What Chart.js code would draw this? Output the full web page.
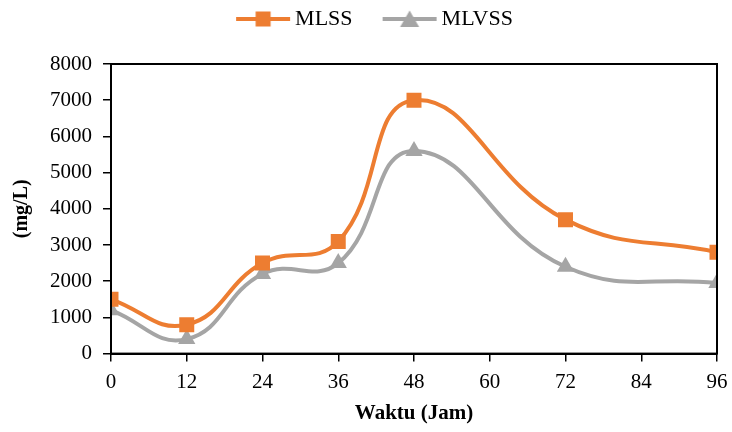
<!DOCTYPE html>
<html>
<head>
<meta charset="utf-8">
<script src="https://cdn.jsdelivr.net/npm/chart.js@4"></script>
<style>
  html, body { margin: 0; padding: 0; background: #fff; }
  #wrap { width: 732px; height: 432px; }
</style>
</head>
<body>
<div id="wrap"><canvas id="chart" width="732" height="432"></canvas></div>
<script>
// Sampling time (hours) and concentrations (mg/L)
const hours = [0, 12, 24, 36, 48, 72, 96];
const mlss  = [1500, 800, 2500, 3100, 7000, 3700, 2800];
const mlvss = [1200, 400, 2200, 2500, 5600, 2400, 1950];
const xTicks = [0, 12, 24, 36, 48, 60, 72, 84, 96];
const yTicks = [0, 1000, 2000, 3000, 4000, 5000, 6000, 7000, 8000];

const ORANGE = '#ED7D31';
const GREY = '#A5A5A5';
const FONT = "'Liberation Serif', 'Times New Roman', serif";

// Legend swatch: a line with the series marker in the middle,
// right-aligned in a wider transparent canvas so the items sit apart
function swatch(color, shape) {
  const c = document.createElement('canvas');
  c.width = 84; c.height = 18;
  const g = c.getContext('2d');
  const x0 = 84 - 56;
  g.strokeStyle = color;
  g.lineWidth = 4;
  g.beginPath(); g.moveTo(x0 + 1, 9); g.lineTo(83, 9); g.stroke();
  g.fillStyle = color;
  const cx = x0 + 28;
  if (shape === 'rect') {
    g.fillRect(cx - 7.5, 9 - 7.5, 15, 15);
  } else {
    g.beginPath();
    g.moveTo(cx, 0.5); g.lineTo(cx + 9.5, 17); g.lineTo(cx - 9.5, 17); g.closePath();
    g.fill();
  }
  return c;
}
const swatches = [swatch(ORANGE, 'rect'), swatch(GREY, 'triangle')];

// Extra room between the legend and the plot
const legendSpace = {
  id: 'legendSpace',
  beforeInit(chart) {
    const legend = chart.legend;
    if (!legend) return;
    const fit = legend.fit;
    legend.fit = function () { fit.call(this); this.height += 24; };
  }
};

// Black frame round the plot area
const frame = {
  id: 'frame',
  afterDatasetsDraw(chart) {
    const { ctx, chartArea: a } = chart;
    ctx.save();
    ctx.strokeStyle = '#000';
    ctx.lineWidth = 2;
    ctx.strokeRect(a.left, a.top, a.right - a.left, a.bottom - a.top);
    ctx.restore();
  }
};

const toPoints = ys => hours.map((h, i) => ({ x: h, y: ys[i] }));

new Chart(document.getElementById('chart'), {
  type: 'line',
  data: {
    datasets: [
      {
        label: 'MLSS',
        data: toPoints(mlss),
        borderColor: ORANGE,
        backgroundColor: ORANGE,
        borderWidth: 4,
        tension: 0.45,
        pointStyle: 'rect',
        pointRadius: 10.6,
        pointHoverRadius: 10.6,
        pointBorderWidth: 0,
        order: 1,
      },
      {
        label: 'MLVSS',
        data: toPoints(mlvss),
        borderColor: GREY,
        backgroundColor: GREY,
        borderWidth: 4,
        tension: 0.45,
        pointStyle: 'triangle',
        pointRadius: 10,
        pointHoverRadius: 10,
        pointBorderWidth: 0,
        order: 2,
      },
    ],
  },
  options: {
    responsive: false,
    animation: false,
    devicePixelRatio: 1,
    layout: { padding: { left: 10, right: 15, top: 0, bottom: 6 } },
    plugins: {
      tooltip: { enabled: false },
      legend: {
        position: 'top',
        labels: {
          color: '#000',
          font: { family: FONT, size: 22 },
          usePointStyle: true,
          pointStyleWidth: 70,
          padding: 8,
          generateLabels(chart) {
            return chart.data.datasets.map((ds, i) => ({
              text: ds.label,
              pointStyle: swatches[i],
              fillStyle: ds.borderColor,
              strokeStyle: ds.borderColor,
              lineWidth: 0,
              fontColor: '#000',
              datasetIndex: i,
            }));
          },
        },
      },
    },
    scales: {
      x: {
        type: 'linear',
        min: 0,
        max: 96,
        afterBuildTicks(axis) { axis.ticks = xTicks.map(v => ({ value: v })); },
        // the "96" label may hang past the plot edge
        afterFit(axis) { axis.paddingRight = 0; },
        ticks: { color: '#000', font: { family: FONT, size: 21 }, padding: 8, callback: v => String(v) },
        grid: { drawOnChartArea: false, drawTicks: true, tickLength: 8, color: '#000', lineWidth: 1.5 },
        border: { color: '#000', width: 2 },
        title: {
          display: true,
          text: 'Waktu (Jam)',
          color: '#000',
          font: { family: FONT, size: 21, weight: 'bold' },
          padding: { top: -2, bottom: 0 },
        },
      },
      y: {
        min: 0,
        max: 8000,
        afterBuildTicks(axis) { axis.ticks = yTicks.map(v => ({ value: v })); },
        ticks: { color: '#000', font: { family: FONT, size: 21 }, padding: 11, callback: v => String(v) },
        grid: { drawOnChartArea: false, drawTicks: true, tickLength: 8, color: '#000', lineWidth: 1.5 },
        border: { color: '#000', width: 2 },
        title: {
          display: true,
          text: '(mg/L)',
          color: '#000',
          font: { family: FONT, size: 20, weight: 'bold' },
          padding: { top: 0, bottom: 5 },
        },
      },
    },
  },
  plugins: [legendSpace, frame],
});
</script>
</body>
</html>
